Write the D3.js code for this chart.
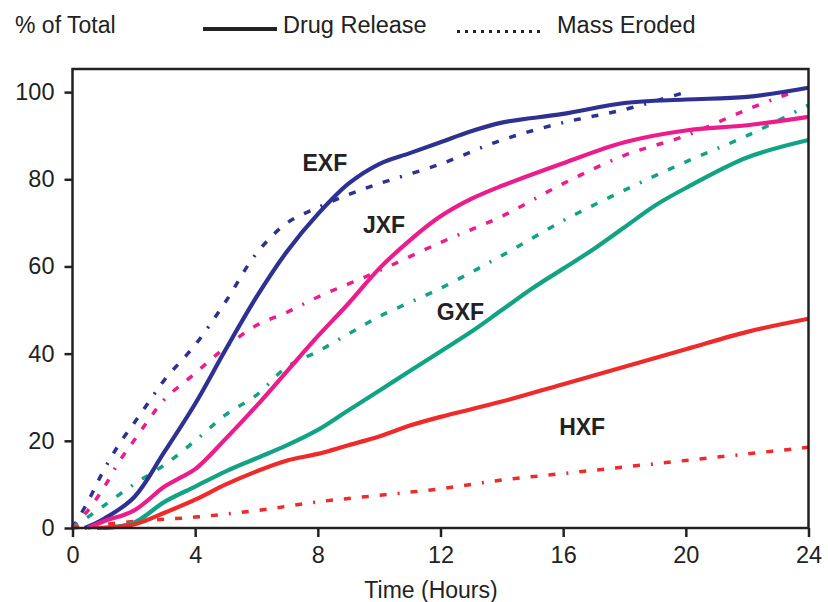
<!DOCTYPE html>
<html lang="en">
    <head>
        <meta charset="utf-8">
        <title>Drug release vs mass eroded</title>
        <script type="text/javascript" src="https://cdn.jsdelivr.net/npm/d3@7/dist/d3.min.js"></script>
        <style>
        body { margin: 0; background: #fff; }
        text { font-family: "Liberation Sans", Arial, sans-serif; fill: #222; }
        .axis path, .axis line { stroke: #222; stroke-width: 2.5; }
        .axis text { font-size: 23.5px; }
        </style>
    </head>
    <body>
        <script type="text/javascript">
        // time points (hours) and values (% of total) per formulation
        var exfReleaseT = [0.4, 1, 2, 3, 4, 5, 6, 7, 8, 9, 10, 11, 12, 13, 14, 16, 18, 20, 22, 24];
        var exfReleaseV = [0, 2, 7, 17.5, 28.5, 41, 53, 63.5, 72, 79, 83.5, 86, 88.5, 91, 93, 95, 97.5, 98.3, 98.9, 101];
        var exfErodedT = [0, 0.5, 1, 1.5, 2, 2.5, 3, 4, 5, 6, 7, 8, 9, 10, 12, 14, 16, 18, 20];
        var exfErodedV = [0, 6, 13, 19, 24, 29, 34, 42, 52, 63, 70, 73.5, 76.5, 79, 83.5, 89, 93, 96, 100];

        var jxfReleaseT = [0.5, 1, 2, 3, 3.5, 4, 5, 6, 7, 8, 9, 10, 11, 12, 13, 14, 16, 18, 20, 22, 24];
        var jxfReleaseV = [0, 1.5, 4, 9.5, 11.5, 13.5, 20.5, 28, 36, 44, 51.5, 59.5, 66, 71.5, 75.5, 78.5, 83.7, 88.5, 91.2, 92.4, 94.3];
        var jxfErodedT = [0, 0.5, 1, 1.5, 2, 2.5, 3, 4, 5, 6, 7, 8, 9, 10, 12, 14, 16, 18, 20, 22, 23.5];
        var jxfErodedV = [0, 4, 9, 15, 20, 25, 29.5, 35.5, 41.5, 46.5, 49.5, 53, 56, 59, 65.5, 71.5, 79, 85.5, 90, 96, 100];

        var gxfReleaseT = [1, 2, 3, 4, 5, 6, 7, 8, 9, 10, 11, 12, 13, 14, 15, 16, 17, 18, 19, 20, 22, 24];
        var gxfReleaseV = [0, 1.2, 6, 9.5, 13, 16, 19, 22.5, 27, 31.5, 36, 40.5, 45, 50, 55, 59.5, 64, 69, 74, 78, 85, 89];
        var gxfErodedT = [0, 1, 2, 3, 4, 5, 6, 7, 8, 9, 10, 12, 14, 16, 18, 20, 22, 24];
        var gxfErodedV = [0, 5, 10, 14.5, 20, 26, 30.5, 37, 40.5, 44.5, 48.5, 55, 62.5, 70.5, 77.5, 84, 90, 97];

        var hxfReleaseT = [0.8, 2, 3, 4, 5, 6, 7, 8, 9, 10, 11, 12, 14, 16, 18, 20, 22, 24];
        var hxfReleaseV = [0, 0.8, 3.5, 6.5, 10, 13, 15.5, 17, 19, 21, 23.5, 25.5, 29, 33, 37, 41, 45, 48];
        var hxfErodedT = [0, 2, 4, 6, 8, 10, 12, 14, 16, 18, 20, 22, 24];
        var hxfErodedV = [0, 1.5, 2.5, 4, 6, 7.5, 9, 11, 12.5, 14, 15.5, 17, 18.5];

        var names = ["EXF", "JXF", "GXF", "HXF"];
        var colors = ["#2e3192", "#ec1c8c", "#12a384", "#ee2a2a"];
        // label anchor (hours, %) for each name
        var labelT = [8.23, 10.16, 12.65, 16.62];
        var labelV = [81.9, 67.7, 47.7, 21.3];

        var xTicks = [0, 4, 8, 12, 16, 20, 24];
        var yTicks = [0, 20, 40, 60, 80, 100];

        var w = 828;
        var h = 602;
        var pLeft = 72.5, pRight = 808.5, pTop = 69, pBottom = 528;

        var xScale = d3.scaleLinear().domain([0, 24]).range([pLeft, pRight]);
        var yScale = d3.scaleLinear().domain([0, 105.3]).range([pBottom, pTop]);

        var svg = d3.select("body")
                    .append("svg")
                    .attr("width", w)
                    .attr("height", h);

        function zip(ts, vs) {
          return ts.map(function (t, i) { return [t, vs[i]]; });
        }

        var series = [
          { c: 0, solid: true, d: zip(exfReleaseT, exfReleaseV) },
          { c: 0, solid: false, d: zip(exfErodedT, exfErodedV) },
          { c: 1, solid: true, d: zip(jxfReleaseT, jxfReleaseV) },
          { c: 1, solid: false, d: zip(jxfErodedT, jxfErodedV) },
          { c: 2, solid: true, d: zip(gxfReleaseT, gxfReleaseV) },
          { c: 2, solid: false, d: zip(gxfErodedT, gxfErodedV) },
          { c: 3, solid: true, d: zip(hxfReleaseT, hxfReleaseV) },
          { c: 3, solid: false, d: zip(hxfErodedT, hxfErodedV) }
        ];

        var line = d3.line()
                     .x(function (d) { return xScale(d[0]); })
                     .y(function (d) { return yScale(d[1]); })
                     .curve(d3.curveCatmullRom.alpha(0.5));

        // dashed first so solid lines sit on top
        svg.selectAll("path.series")
            .data(series.filter(function (s) { return !s.solid; }).concat(series.filter(function (s) { return s.solid; })))
            .enter()
            .append("path")
            .attr("class", "series")
            .attr("d", function (s) { return line(s.d); })
            .attr("fill", "none")
            .attr("stroke", function (s) { return colors[s.c]; })
            .attr("stroke-width", function (s) { return s.solid ? 4.2 : 3.5; })
            .attr("stroke-dasharray", function (s) { return s.solid ? null : "7,11,7,11,7,11,7,11,2,11"; });

        var xAxis = d3.axisBottom(xScale).tickValues(xTicks).tickSize(9).tickPadding(9).tickSizeOuter(0);
        var yAxis = d3.axisLeft(yScale).tickValues(yTicks).tickSize(8).tickPadding(10).tickSizeOuter(0);

        svg.append("g")
          .attr("class", "axis")
          .attr("transform", "translate(0," + pBottom + ")")
          .call(xAxis);
        svg.append("g")
          .attr("class", "axis")
          .attr("transform", "translate(" + pLeft + ",0)")
          .call(yAxis);
        svg.selectAll(".axis path").remove();
        svg.selectAll(".axis text").attr("fill", "#222");

        // frame
        svg.append("rect")
            .attr("x", pLeft).attr("y", pTop)
            .attr("width", pRight - pLeft).attr("height", pBottom - pTop)
            .attr("fill", "none").attr("stroke", "#222").attr("stroke-width", 2.5);

        svg.append("text")
          .attr("x", 431)
          .attr("y", 598)
          .attr("text-anchor", "middle")
          .style("font-size", "23px")
          .text("Time (Hours)");

        // curve labels
        svg.selectAll("text.lab")
            .data(names)
            .enter()
            .append("text")
            .attr("class", "lab")
            .attr("x", function (d, i) { return xScale(labelT[i]); })
            .attr("y", function (d, i) { return yScale(labelV[i]); })
            .attr("text-anchor", "middle")
            .style("font-size", "23px")
            .style("font-weight", "bold")
            .text(function (d) { return d; });

        // header / legend
        svg.append("text").attr("x", 15).attr("y", 33).style("font-size", "23px").text("% of Total");
        svg.append("line").attr("x1", 203).attr("x2", 277).attr("y1", 29).attr("y2", 29)
            .attr("stroke", "#222").attr("stroke-width", 4);
        svg.append("text").attr("x", 283).attr("y", 33).style("font-size", "23.5px").text("Drug Release");
        svg.append("line").attr("x1", 457).attr("x2", 545).attr("y1", 31.5).attr("y2", 31.5)
            .attr("stroke", "#222").attr("stroke-width", 3).attr("stroke-dasharray", "3,5");
        svg.append("text").attr("x", 557).attr("y", 33).style("font-size", "23.5px").text("Mass Eroded");
        </script>
    </body>
</html>
